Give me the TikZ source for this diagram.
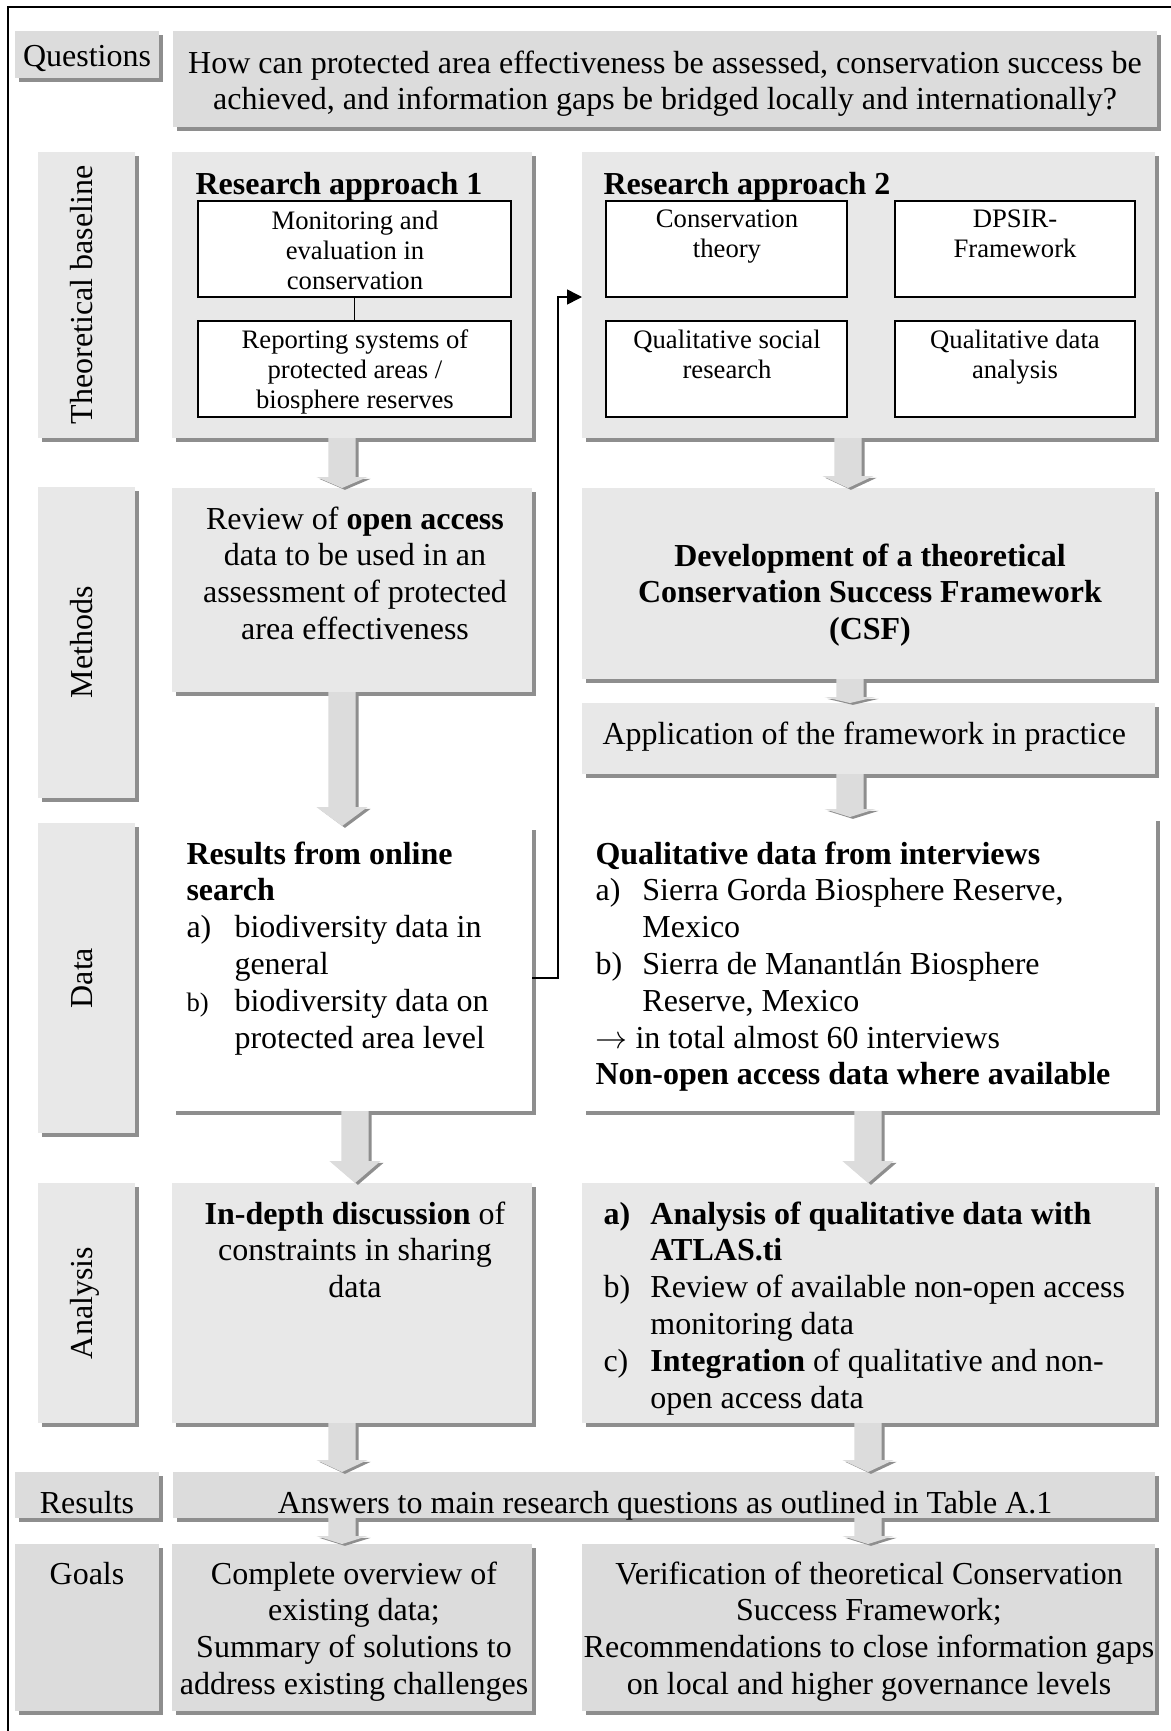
\documentclass[tikz,border=0pt]{standalone}
\usepackage{fontspec}
\setmainfont{Liberation Serif}
\usetikzlibrary{arrows.meta,shadows,calc}
\definecolor{lightfill}{HTML}{E8E8E8}
\definecolor{darkfill}{HTML}{DCDCDC}
\definecolor{shadowgray}{HTML}{8E8E8E}
\definecolor{arrowgray}{HTML}{DCDCDC}

% panel given by its corners (x1,y1) (x2,y2) in layout units
\newcommand\panelbox[6]{%
  \node[#6, anchor=north west, minimum width={(#4-#2)*0.375pt},
        minimum height={(#5-#3)*0.375pt}] (#1) at (#2,#3) {};}

% grey block arrow: #1 column coordinate, #2 start anchor, #3 end anchor, #4 head length
\newcommand\blockarrow[4]{%
  \fill[shadowgray] let \p1=(#2 -| #1), \p2=(#3 -| #1) in
    (\x1-4pt,\y1) -- (\x1+6.2pt,\y1) -- (\x1+6.2pt,\y2+#4*0.375pt-0.7pt)
    -- (\x1+10.7pt,\y2+#4*0.375pt-0.7pt) -- (\x1+1.1pt,\y2-0.7pt)
    -- (\x1-8.5pt,\y2+#4*0.375pt-0.7pt) -- (\x1-4pt,\y2+#4*0.375pt-0.7pt) -- cycle;
  \fill[arrowgray] let \p1=(#2 -| #1), \p2=(#3 -| #1) in
    (\x1-5.1pt,\y1) -- (\x1+5.1pt,\y1) -- (\x1+5.1pt,\y2+#4*0.375pt)
    -- (\x1+9.6pt,\y2+#4*0.375pt) -- (\x1,\y2)
    -- (\x1-9.6pt,\y2+#4*0.375pt) -- (\x1-5.1pt,\y2+#4*0.375pt) -- cycle;}

\begin{document}
\begin{tikzpicture}[x=0.375pt,y=-0.375pt,
  panel/.style={inner sep=0pt, outer sep=0pt, draw=none,
    drop shadow={shadow xshift=1.5pt,shadow yshift=-1.5pt,fill=shadowgray,opacity=1}},
  lightpanel/.style={panel, fill=lightfill},
  darkpanel/.style={panel, fill=darkfill},
  whitepanel/.style={panel, fill=white},
  innerbox/.style={draw=black, line width=0.6pt, fill=white, inner sep=0pt, outer sep=0pt},
  txt/.style={inner sep=0pt, font=\fontsize{12}{13.8}\selectfont},
  basetxt/.style={txt, yshift=-0.6pt},
  txtblock/.style={txt, anchor=north, align=center, yshift=-1.5pt, execute at begin node=\strut},
  listblock/.style={txt, anchor=north west, align=left, yshift=-1.5pt, execute at begin node=\strut},
  smalltxt/.style={inner sep=0pt, font=\fontsize{10}{11.3}\selectfont, anchor=north,
    align=center, yshift=-0.8pt, execute at begin node=\strut},
  sidelabel/.style={txt, rotate=90, anchor=base},
  titletxt/.style={basetxt, anchor=base west, font=\fontsize{12}{13.8}\selectfont\bfseries},
  link/.style={draw=black, line width=0.6pt}
]
\useasboundingbox (0,0) rectangle (1171,1731);

% outer frame
\draw[line width=0.75pt] (8,1731) -- (8,7) -- (1171,7);

% column coordinates for the block arrows
\coordinate (cA) at (342,0);
\coordinate (cB) at (355,0);
\coordinate (cC) at (848,0);
\coordinate (cD) at (850,0);
\coordinate (cE) at (868,0);

% ---------- panels ----------
\panelbox{qlab}{15}{31}{159}{78}{darkpanel}
\panelbox{qbox}{173}{31}{1157}{127}{darkpanel}

\panelbox{tblab}{38}{152}{135}{438}{lightpanel}
\panelbox{ra1}{172}{152}{532}{438}{lightpanel}
\panelbox{ra2}{582}{152}{1155}{438}{lightpanel}

\panelbox{mlab}{38}{487}{135}{798}{lightpanel}
\panelbox{review}{172}{488}{532}{692}{lightpanel}
\panelbox{dev}{582}{488}{1155}{679}{lightpanel}
\panelbox{app}{582}{703}{1155}{774}{lightpanel}

\panelbox{dlab}{38}{823}{135}{1133}{lightpanel}
\panelbox{dataL}{172}{826}{532}{1111}{whitepanel}
\panelbox{dataR}{582}{817}{1156}{1111}{whitepanel}

\panelbox{alab}{38}{1183}{135}{1423}{lightpanel}
\panelbox{anaL}{172}{1183}{532}{1423}{lightpanel}
\panelbox{anaR}{582}{1183}{1155}{1423}{lightpanel}

\panelbox{rlab}{15}{1472}{159}{1518}{darkpanel}
\panelbox{res}{173}{1472}{1155}{1518}{darkpanel}

\panelbox{glab}{15}{1544}{159}{1711}{darkpanel}
\panelbox{goalsL}{172}{1544}{532}{1711}{darkpanel}
\panelbox{goalsR}{582}{1544}{1155}{1711}{darkpanel}

% ---------- inner boxes of the research approaches ----------
\panelbox{mon}{198}{201}{511}{297}{innerbox}
\panelbox{rep}{198}{321}{511}{417}{innerbox}
\draw[link] (mon.south) -- (rep.north);

\panelbox{cons}{606}{201}{847}{297}{innerbox}
\panelbox{dpsir}{895}{201}{1135}{297}{innerbox}
\panelbox{qsr}{606}{321}{847}{417}{innerbox}
\panelbox{qda}{895}{321}{1135}{417}{innerbox}

% ---------- texts ----------
\node[basetxt, anchor=base] (qlabtxt) at (87,65) {Questions};
\node[txtblock] (qtxt) at (665,46) {How can protected area effectiveness be assessed, conservation success be\\achieved, and information gaps be bridged locally and internationally?};

\node[sidelabel] (tbtxt) at (92,295) {Theoretical baseline};
\node[titletxt] (ra1title) at (195,193) {Research approach 1};
\node[smalltxt] (montxt) at (355,208) {Monitoring and\\evaluation in\\conservation};
\node[smalltxt] (reptxt) at (355,327) {Reporting systems of\\protected areas /\\biosphere reserves};

\node[titletxt] (ra2title) at (603,193) {Research approach 2};
\node[smalltxt] (constxt) at (727,207) {Conservation\\theory};
\node[smalltxt] (dpsirtxt) at (1015,207) {DPSIR-\\Framework};
\node[smalltxt] (qsrtxt) at (727,327) {Qualitative social\\research};
\node[smalltxt] (qdatxt) at (1015,327) {Qualitative data\\analysis};

\node[sidelabel] (mtxt) at (92,642) {Methods};
\node[txtblock] (reviewtxt) at (355,502) {Review of \textbf{open access}\\data to be used in an\\assessment of protected\\area effectiveness};
\node[txtblock, font=\fontsize{12}{13.8}\selectfont\bfseries] (devtxt) at (870,539) {Development of a theoretical\\Conservation Success Framework\\(CSF)};
\node[basetxt, anchor=base west] (apptxt) at (602,743) {Application of the framework in practice};

\node[sidelabel] (dtxt) at (92,978) {Data};
\node[listblock] (dataLtxt) at (186,837) {%
\textbf{Results from online}\\
\textbf{search}\\
\makebox[18pt][l]{a)}biodiversity data in\\
\hspace*{18pt}general\\
\makebox[18pt][l]{\fontsize{10}{11.3}\selectfont b)}biodiversity data on\\
\hspace*{18pt}protected area level};
\node[listblock] (dataRtxt) at (595,837) {%
\textbf{Qualitative data from interviews}\\
\makebox[17.6pt][l]{a)}Sierra Gorda Biosphere Reserve,\\
\hspace*{17.6pt}Mexico\\
\makebox[17.6pt][l]{b)}Sierra de Manantlán Biosphere\\
\hspace*{17.6pt}Reserve, Mexico\\
$\rightarrow$ in total almost 60 interviews\\
\textbf{Non-open access data where available}};

\node[sidelabel] (atxt) at (92,1303) {Analysis};
\node[txtblock] (anaLtxt) at (355,1197) {\textbf{In-depth discussion} of\\constraints in sharing\\data};
\node[listblock] (anaRtxt) at (603,1197) {%
\makebox[17.6pt][l]{\textbf{a)}}\textbf{Analysis of qualitative data with}\\
\hspace*{17.6pt}\textbf{ATLAS.ti}\\
\makebox[17.6pt][l]{b)}Review of available non-open access\\
\hspace*{17.6pt}monitoring data\\
\makebox[17.6pt][l]{c)}\textbf{Integration} of qualitative and non-\\
\hspace*{17.6pt}open access data};

\node[basetxt, anchor=base] (rlabtxt) at (87,1512) {Results};
\node[basetxt, anchor=base] (restxt) at (665,1512) {Answers to main research questions as outlined in Table A.1};

\node[basetxt, anchor=base] (glabtxt) at (87,1583) {Goals};
\node[txtblock] (goalsLtxt) at (354,1557) {Complete overview of\\existing data;\\Summary of solutions to\\address existing challenges};
\node[txtblock] (goalsRtxt) at (869,1557) {Verification of theoretical Conservation\\Success Framework;\\Recommendations to close information gaps\\on local and higher governance levels};

% ---------- block arrows ----------
\blockarrow{cA}{ra1.south}{review.north}{11}
\blockarrow{cA}{review.south}{dataL.north}{19}
\blockarrow{cB}{dataL.south}{anaL.north}{22}
\blockarrow{cA}{anaL.south}{res.north}{12}
\blockarrow{cA}{res.south}{goalsL.north}{8}

\blockarrow{cC}{ra2.south}{dev.north}{12}
\blockarrow{cD}{dev.south}{app.north}{6}
\blockarrow{cD}{app.south}{dataR.north}{8}
\blockarrow{cE}{dataR.south}{anaR.north}{22}
\blockarrow{cE}{anaR.south}{res.north}{12}
\blockarrow{cE}{res.south}{goalsR.north}{8}

% ---------- link from the online search results to research approach 2 ----------
\coordinate (elbow) at (558,978);
\coordinate (arrowin) at (582,297);
\draw[link, -{Triangle[length=5.6pt,width=5.6pt]}]
  (dataL.east |- elbow) -- (elbow) |- (ra2.west |- arrowin);
\end{tikzpicture}
\end{document}
